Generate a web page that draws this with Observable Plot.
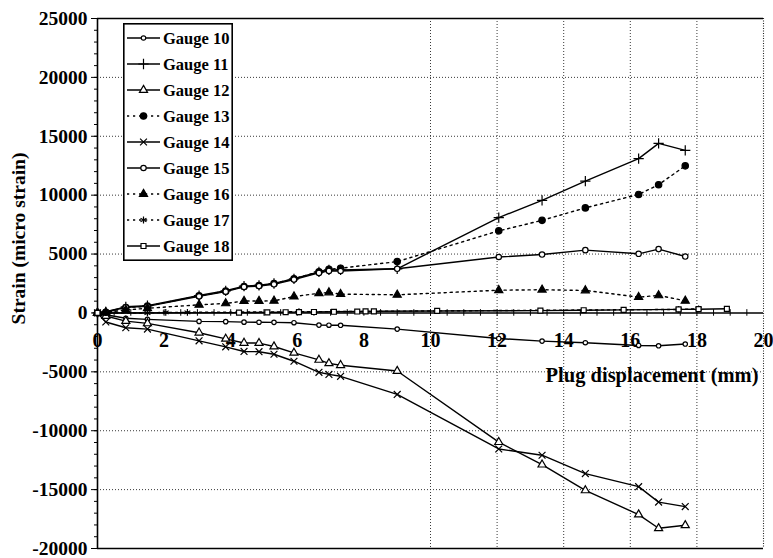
<!DOCTYPE html>
<html><head><meta charset="utf-8">
<script src="https://cdn.jsdelivr.net/npm/d3@7"></script>
<script src="https://cdn.jsdelivr.net/npm/@observablehq/plot@0.6"></script>
<style>
body{margin:0;background:#fff;}
#wrap{position:relative;width:773px;height:558px;}
#legend{position:absolute;left:123px;top:23px;}
</style></head><body><div id="wrap"></div>
<script>
// ---------- data ----------
const gauges = ["Gauge 10","Gauge 11","Gauge 12","Gauge 13","Gauge 14","Gauge 15","Gauge 16","Gauge 17","Gauge 18"];
const xMain = [0, 0.25, 0.85, 1.5, 3.05, 3.85, 4.4, 4.85, 5.3, 5.9, 6.65, 6.95, 7.3, 9.0, 12.05, 13.35, 14.65, 16.25, 16.85, 17.65];
const g10 = [0, -150, -450, -550, -720, -740, -780, -790, -800, -830, -1030, -1040, -1050, -1370, -2170, -2390, -2530, -2760, -2790, -2640];
const g11 = [0, 100, 520, 620, 1480, 1880, 2280, 2350, 2500, 2900, 3480, 3650, 3650, 3750, 8100, 9550, 11200, 13100, 14400, 13800];
const g12 = [0, -260, -690, -890, -1680, -2200, -2550, -2560, -2850, -3390, -3990, -4280, -4440, -4930, -10970, -12880, -15070, -17120, -18280, -18030];
const g13 = [0, 60, 450, 580, 1450, 1850, 2250, 2330, 2500, 2900, 3500, 3700, 3800, 4360, 6970, 7860, 8920, 10060, 10890, 12490];
const g14 = [0, -770, -1260, -1370, -2370, -2880, -3270, -3290, -3510, -4100, -5040, -5220, -5380, -6920, -11550, -12080, -13640, -14750, -16060, -16440];
const g15 = [0, 80, 480, 560, 1410, 1810, 2210, 2280, 2430, 2830, 3400, 3570, 3560, 3750, 4750, 4960, 5330, 5020, 5420, 4790];
const g16 = [0, 50, 250, 400, 690, 810, 1010, 1010, 1030, 1390, 1670, 1740, 1600, 1540, 1930, 1970, 1910, 1340, 1490, 1030];
const xG17 = [0, 1.5, 2.05, 2.7, 6.05, 17.45, 18.05];
const g17 = [0, 0, 50, 50, 100, 300, 350];
const xG18 = [0, 4.25, 5.1, 5.65, 6.05, 6.5, 7.1, 7.8, 8.05, 8.3, 10.2, 13.3, 14.6, 15.8, 17.45, 18.05, 18.9];
const g18 = [0, 30, 50, 60, 70, 80, 100, 120, 130, 140, 170, 200, 230, 260, 300, 320, 350];
const yTicks = [-20000, -15000, -10000, -5000, 0, 5000, 10000, 15000, 20000, 25000];
const xTickLabels = [0, 2, 4, 6, 8, 10, 12, 14, 16, 18, 20];
const yGrid = [-15000, -10000, -5000, 5000, 10000, 15000, 20000];
const xGrid = [10, 12, 14, 16, 18];
const xTitle = "Plug displacement (mm)";
const yTitle = "Strain (micro strain)";

// ---------- build table ----------
const seriesX = [xMain, xMain, xMain, xMain, xMain, xMain, xMain, xG17, xG18];
const seriesY = [g10, g11, g12, g13, g14, g15, g16, g17, g18];
const rows = [];
gauges.forEach((g, i) => seriesX[i].forEach((x, j) => rows.push({gauge: g, x, y: seriesY[i][j]})));

// ---------- styles ----------
const DOT = "2.2,3.8";
const style = {
  "Gauge 10": {symbol: "circle",   fill: "white", r: 2.2, dash: null},
  "Gauge 11": {symbol: "plus",     fill: "none",  r: 3.4, dash: null},
  "Gauge 12": {symbol: "triangle", fill: "white", r: 3.0, dash: null},
  "Gauge 13": {symbol: "circle",   fill: "black", r: 3.2, dash: DOT},
  "Gauge 14": {symbol: "times",    fill: "none",  r: 3.2, dash: null},
  "Gauge 15": {symbol: "circle",   fill: "white", r: 2.7, dash: null},
  "Gauge 16": {symbol: "triangle", fill: "black", r: 3.0, dash: DOT},
  "Gauge 17": {symbol: "asterisk", fill: "none",  r: 3.2, dash: DOT},
  "Gauge 18": {symbol: "square",   fill: "white", r: 2.8, dash: null}
};
const FONT = "'Liberation Serif', 'Times New Roman', serif";

const marks = [
  Plot.ruleY(yGrid, {stroke: "#222", strokeWidth: 0.9, strokeDasharray: "1,2"}),
  Plot.ruleX(xGrid, {stroke: "#222", strokeWidth: 0.9, strokeDasharray: "1,2"}),
  Plot.ruleX([20], {stroke: "#222", strokeWidth: 1.1, strokeDasharray: "1,1.5"}),
  Plot.ruleY([25000, -20000], {stroke: "black", strokeWidth: 1.6}),
  Plot.ruleX([0], {stroke: "black", strokeWidth: 1.6}),
  Plot.ruleY([0], {stroke: "black", strokeWidth: 1.6}),
  Plot.ruleX(d3.range(0.5, 20, 0.5), {y1: -280, y2: 280, stroke: "black", strokeWidth: 1}),
  Plot.axisY({ticks: d3.range(-20000, 25001, 1000), tickSize: 3, tickFormat: () => "", label: null, stroke: "black"}),
  Plot.axisY({ticks: yTicks, tickSize: 6, tickPadding: 4, tickFormat: d => String(d), label: null, fontSize: 19.5, fontWeight: "bold", fill: "black"}),
  Plot.text(xTickLabels, {x: d => d, y: 0, dy: 28, text: d => String(d), fontSize: 20, fontWeight: "bold", fill: "black"}),
  Plot.text([xTitle], {frameAnchor: "top-right", textAnchor: "end", dx: -5, dy: 349, text: d => d, fontSize: 20.5, fontWeight: "bold", fill: "black"}),
  Plot.text([yTitle], {frameAnchor: "left", textAnchor: "middle", rotate: -90, dx: -79, dy: -45, text: d => d, fontSize: 19.5, fontWeight: "bold", fill: "black"})
];
for (const g of gauges) {
  const s = style[g];
  const data = rows.filter(r => r.gauge === g);
  marks.push(Plot.line(data, {x: "x", y: "y", stroke: "black", strokeWidth: 1.4, strokeDasharray: s.dash ?? undefined, curve: "linear"}));
}
for (const g of gauges) {
  const s = style[g];
  const data = rows.filter(r => r.gauge === g);
  marks.push(Plot.dot(data, {x: "x", y: "y", symbol: () => s.symbol, r: s.r, fill: s.fill, stroke: "black", strokeWidth: 1.2}));
}

const chart = Plot.plot({
  width: 773, height: 558,
  marginLeft: 97, marginRight: 10, marginTop: 18, marginBottom: 10,
  x: {domain: [0, 20], axis: null},
  y: {domain: [-20000, 25000], axis: null},
  symbol: {type: "identity"},
  style: {fontFamily: FONT, fontWeight: "bold", background: "white", color: "black"},
  marks
});
const wrap = document.getElementById("wrap");
wrap.appendChild(chart);

// ---------- legend overlay ----------
const lw = 110, lh = 238;
const leg = d3.select(wrap).append("svg").attr("id", "legend").attr("width", lw).attr("height", lh);
leg.append("rect").attr("x", 0.8).attr("y", 0.8).attr("width", lw - 1.6).attr("height", lh - 1.6)
  .attr("fill", "white").attr("stroke", "black").attr("stroke-width", 1.6);
const symMap = {circle: d3.symbolCircle, plus: d3.symbolPlus, triangle: d3.symbolTriangle, times: d3.symbolTimes, asterisk: d3.symbolAsterisk, square: d3.symbolSquare};
gauges.forEach((g, i) => {
  const s = style[g];
  const cy = 15 + i * 26;
  leg.append("line").attr("x1", 4).attr("x2", 37).attr("y1", cy).attr("y2", cy)
    .attr("stroke", "black").attr("stroke-width", 1.4).attr("stroke-dasharray", s.dash);
  leg.append("path").attr("transform", `translate(20.5,${cy})`)
    .attr("d", d3.symbol(symMap[s.symbol], Math.PI * s.r * s.r)())
    .attr("fill", s.fill).attr("stroke", "black").attr("stroke-width", 1.2);
  leg.append("text").attr("x", 40).attr("y", cy).attr("dy", "0.35em")
    .attr("font-family", FONT).attr("font-weight", "bold").attr("font-size", 16.5).text(g);
});
</script></body></html>
